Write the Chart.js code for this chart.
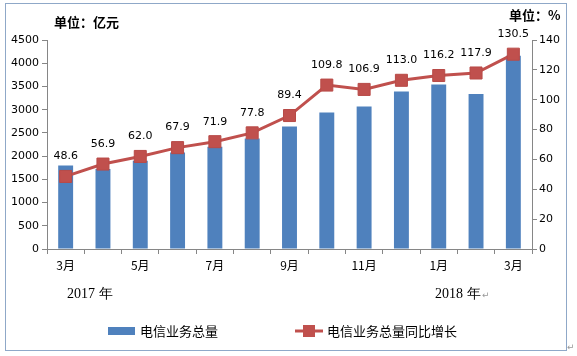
<!DOCTYPE html>
<html>
<head>
<meta charset="utf-8">
<script src="https://cdn.jsdelivr.net/npm/chart.js@4/dist/chart.umd.min.js"></script>
<style>
html,body{margin:0;padding:0;background:#fff;}
#wrap{position:relative;width:577px;height:356px;}
</style>
</head>
<body>
<div id="wrap"><canvas id="c" width="577" height="356"></canvas></div>
<script>
const categories = ['3月','4月','5月','6月','7月','8月','9月','10月','11月','12月','1月','2月','3月'];
const totalVolume = [1800, 1720, 1900, 2080, 2200, 2380, 2640, 2940, 3070, 3390, 3540, 3340, 4160];
const yoyGrowth = [48.6, 56.9, 62.0, 67.9, 71.9, 77.8, 89.4, 109.8, 106.9, 113.0, 116.2, 117.9, 130.5];
const leftTicks = [0, 500, 1000, 1500, 2000, 2500, 3000, 3500, 4000, 4500];
const rightTicks = [0, 20, 40, 60, 80, 100, 120, 140];
const seriesNames = ['电信业务总量', '电信业务总量同比增长'];

const BLUE = '#4F81BD';
const RED = '#C0504D';
const AXIS = '#868686';
const FONT = 'DejaVu Sans';
const CJK = '"Noto Sans CJK SC", "DejaVu Sans"';

const decorPlugin = {
  id: 'decor',
  afterDraw(chart) {
    const ctx = chart.ctx;
    ctx.save();
    // data labels on the line
    const meta = chart.getDatasetMeta(1);
    ctx.fillStyle = '#000';
    ctx.font = '11px ' + FONT;
    ctx.textAlign = 'center';
    ctx.textBaseline = 'middle';
    meta.data.forEach((pt, i) => {
      ctx.fillText(yoyGrowth[i].toFixed(1), pt.x, pt.y - 20);
    });
    // units
    ctx.font = 'bold 13px ' + CJK;
    ctx.textAlign = 'left';
    ctx.fillText('单位：亿元', 54, 22);
    ctx.fillText('单位：%', 509, 15);
    // years
    ctx.font = '14px "Liberation Serif"';
    ctx.fillText('2017 年', 67, 294);
    ctx.fillText('2018 年', 435, 294);
    ctx.fillStyle = '#999';
    ctx.font = '9px ' + FONT;
    ctx.fillText('↵', 482, 296);
    ctx.fillText('↵', 567, 348);
    // legend
    ctx.fillStyle = BLUE;
    ctx.fillRect(108, 327, 27, 8);
    ctx.fillStyle = '#000';
    ctx.font = '13px ' + CJK;
    ctx.fillText(seriesNames[0], 140, 331);
    ctx.strokeStyle = RED;
    ctx.lineWidth = 3;
    ctx.beginPath();
    ctx.moveTo(295, 331);
    ctx.lineTo(323, 331);
    ctx.stroke();
    ctx.fillStyle = RED;
    ctx.fillRect(303, 325, 12, 12);
    ctx.fillStyle = '#000';
    ctx.fillText(seriesNames[1], 327, 331);
    // frame
    ctx.strokeStyle = '#8FA8C8';
    ctx.lineWidth = 1;
    ctx.strokeRect(5.5, 3.5, 561, 347);
    ctx.restore();
  }
};

new Chart(document.getElementById('c'), {
  type: 'bar',
  data: {
    labels: categories,
    datasets: [
      {
        type: 'bar',
        label: seriesNames[0],
        data: totalVolume,
        backgroundColor: BLUE,
        yAxisID: 'y',
        barPercentage: 0.4,
        categoryPercentage: 1.0,
        order: 2
      },
      {
        type: 'line',
        label: seriesNames[1],
        data: yoyGrowth,
        borderColor: RED,
        backgroundColor: RED,
        borderWidth: 3,
        pointStyle: 'rect',
        pointRadius: 8.5,
        pointBackgroundColor: RED,
        pointBorderColor: '#B84A47',
        pointBorderWidth: 1,
        tension: 0,
        yAxisID: 'y1',
        order: 1
      }
    ]
  },
  options: {
    responsive: false,
    animation: false,
    devicePixelRatio: 1,
    layout: { padding: { left: 0, right: 0, top: 40, bottom: 0 } },
    plugins: { legend: { display: false }, tooltip: { enabled: false } },
    scales: {
      x: {
        offset: true,
        grid: { offset: true, drawOnChartArea: false, drawTicks: true, tickLength: 5, color: AXIS },
        border: { color: AXIS },
        ticks: {
          autoSkip: false, maxRotation: 0, padding: 4,
          color: '#000', font: { family: CJK, size: 12 },
          callback: (v, i) => (i % 2 === 0 ? categories[i] : '')
        },
        afterFit: s => { s.height = 107; }
      },
      y: {
        position: 'left',
        min: 0, max: 4500,
        afterBuildTicks: s => { s.ticks = leftTicks.map(v => ({ value: v })); },
        grid: { drawOnChartArea: false, drawTicks: true, tickLength: 5, color: AXIS },
        border: { color: AXIS },
        ticks: { color: '#000', font: { family: FONT, size: 11 }, padding: 3, callback: v => String(v) },
        afterFit: s => { s.width = 47; }
      },
      y1: {
        position: 'right',
        min: 0, max: 140,
        afterBuildTicks: s => { s.ticks = rightTicks.map(v => ({ value: v })); },
        grid: { drawOnChartArea: false, drawTicks: true, tickLength: 5, color: AXIS },
        border: { color: AXIS },
        ticks: { color: '#000', font: { family: FONT, size: 11 }, padding: 2, callback: v => String(v) },
        afterFit: s => { s.width = 45; }
      }
    }
  },
  plugins: [decorPlugin]
});
</script>
</body>
</html>
